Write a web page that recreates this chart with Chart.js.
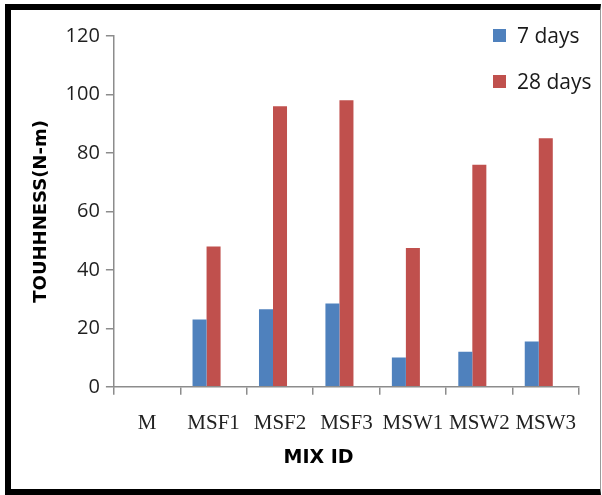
<!DOCTYPE html>
<html>
<head>
<meta charset="utf-8">
<title>Toughness by mix</title>
<script src="https://cdn.jsdelivr.net/npm/chart.js@4.4.1/dist/chart.umd.min.js"></script>
<style>
  body { margin: 0; background: #fff; }
  #wrap { position: relative; width: 602px; height: 495px; }
  #frame {
    position: absolute; left: 5px; top: 4px; width: 596px; height: 491px;
    box-sizing: border-box; border: 6px solid #000; border-right: 1px solid #9a9a9a;
    pointer-events: none;
  }
  #legend {
    position: absolute; left: 493px; top: 12px; margin: 0; padding: 0; list-style: none;
    font: 21px "Open Sans", sans-serif; color: #1a1a1a;
  }
  #legend li { display: flex; align-items: center; height: 46px; white-space: nowrap; }
  #legend span { display: inline-block; width: 13px; height: 13px; margin-right: 11px; }
</style>
</head>
<body>
<div id="wrap">
  <canvas id="graficoTenacidade" width="602" height="495"></canvas>
  <ul id="legend"></ul>
  <div id="frame"></div>
</div>
<script>
// Dados
var mixIds = ['M', 'MSF1', 'MSF2', 'MSF3', 'MSW1', 'MSW2', 'MSW3'];
var seriesNames = ['7 days', '28 days'];
var days7 = [0, 23, 26.5, 28.5, 10, 12, 15.5];
var days28 = [0, 48, 96, 98, 47.5, 76, 85];
var seriesColors = ['#4F81BD', '#C0504D'];

var axisGray = '#8c8c8c';

// Título do eixo X desenhado à mão (fica um pouco à esquerda do centro)
var xTitle = {
    id: 'xTitle',
    afterDraw: function (chart) {
        var ctx = chart.ctx;
        var area = chart.chartArea;
        ctx.save();
        ctx.font = 'bold 19px "DejaVu Sans"';
        ctx.fillStyle = '#000';
        ctx.textAlign = 'center';
        ctx.textBaseline = 'middle';
        ctx.fillText('MIX ID', area.left + area.width * 0.44, chart.height - 37);
        ctx.restore();
    }
};

var ctx = document.getElementById('graficoTenacidade').getContext('2d');
var chart = new Chart(ctx, {
    type: 'bar',
    data: {
        labels: mixIds,
        datasets: [
            {
                label: seriesNames[0],
                data: days7,
                backgroundColor: seriesColors[0],
                borderWidth: 0
            },
            {
                label: seriesNames[1],
                data: days28,
                backgroundColor: seriesColors[1],
                borderWidth: 0
            },
            {
                // série vazia, só reserva o espaço da terceira barra
                label: '',
                data: [],
                backgroundColor: 'rgba(0,0,0,0)'
            }
        ]
    },
    options: {
        responsive: false,
        animation: false,
        layout: { padding: { top: 36, right: 23, left: 27, bottom: 43 } },
        datasets: {
            bar: { categoryPercentage: 0.633, barPercentage: 1 }
        },
        plugins: {
            legend: { display: false },
            tooltip: { enabled: false }
        },
        scales: {
            x: {
                ticks: {
                    padding: 16,
                    maxRotation: 0,
                    minRotation: 0,
                    autoSkip: false,
                    color: '#222',
                    font: { family: 'Liberation Serif', size: 21 }
                },
                grid: { drawOnChartArea: false, tickLength: 8, color: axisGray, lineWidth: 1.5 },
                border: { color: axisGray, width: 1.5 }
            },
            y: {
                min: 0,
                max: 120,
                ticks: {
                    stepSize: 20,
                    padding: 6,
                    color: '#1f1f1f',
                    font: { family: 'Open Sans', size: 20 }
                },
                grid: { drawOnChartArea: false, tickLength: 8, color: axisGray, lineWidth: 1.5 },
                border: { color: axisGray, width: 1.5 },
                title: {
                    display: true,
                    text: 'TOUHHNESS(N-m)',
                    color: '#000',
                    font: { family: 'DejaVu Sans', size: 18, weight: 'bold' },
                    padding: { top: 4, bottom: 7 }
                }
            }
        }
    },
    plugins: [xTitle]
});

// Legenda em HTML, no canto superior direito
var legend = document.getElementById('legend');
seriesNames.forEach(function (name, i) {
    var li = document.createElement('li');
    var box = document.createElement('span');
    box.style.background = seriesColors[i];
    li.appendChild(box);
    li.appendChild(document.createTextNode(name));
    legend.appendChild(li);
});
</script>
</body>
</html>
